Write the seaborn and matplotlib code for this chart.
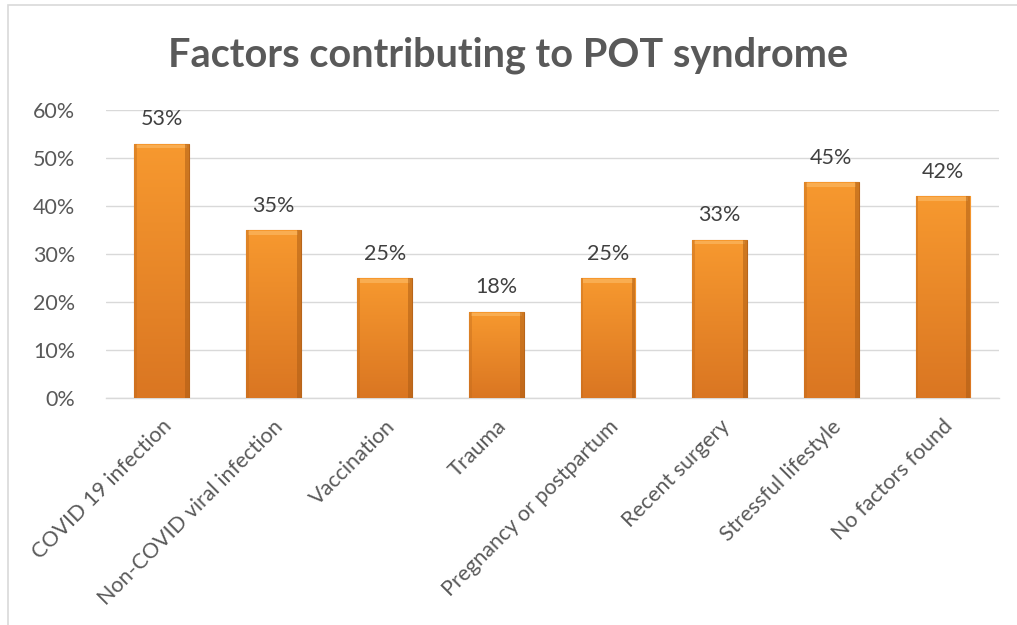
import numpy as np
import pandas as pd
import matplotlib
matplotlib.use("Agg")
import matplotlib.pyplot as plt
import seaborn as sns
from matplotlib.patches import Rectangle
from matplotlib.colors import LinearSegmentedColormap

categories = ["COVID 19 infection", "Non-COVID viral infection", "Vaccination", "Trauma",
              "Pregnancy or postpartum", "Recent surgery", "Stressful lifestyle", "No factors found"]
values = [53, 35, 25, 18, 25, 33, 45, 42]
yticks = [0, 10, 20, 30, 40, 50, 60]
title = "Factors contributing to POT syndrome"

sns.set_theme(style="white")
plt.rcParams['font.family'] = ['Lato', 'DejaVu Sans']

df = pd.DataFrame({"factor": categories, "pct": values})

fig = plt.figure(figsize=(10.17, 6.25), dpi=100)
ax = fig.add_axes([0.104, 0.363, 0.878, 0.461])

sns.barplot(data=df, x="factor", y="pct", color="#F28C28", width=0.49, ax=ax,
            edgecolor="#B8651A", linewidth=0.8, zorder=3)

grad = np.linspace(0, 1, 256).reshape(-1, 1)
cmap = LinearSegmentedColormap.from_list("o", ["#DA7622", "#F7992F"])
for p in ax.patches:
    x0, y0 = p.get_x(), p.get_y()
    w, h = p.get_width(), p.get_height()
    im = ax.imshow(grad, extent=[x0, x0 + w, y0, y0 + h], origin="lower", cmap=cmap,
                   aspect="auto", zorder=3.5)
    im.set_clip_path(p)
    ax.add_patch(Rectangle((x0 + w * 0.04, y0 + h - 1.0), w * 0.92, 0.8,
                           facecolor="#FBB35A", edgecolor="none", zorder=3.6, alpha=0.8))
    ax.add_patch(Rectangle((x0 + w * 0.93, y0), w * 0.07, h,
                           facecolor="#A85A14", edgecolor="none", zorder=3.6, alpha=0.5))
    ax.add_patch(Rectangle((x0, y0), w * 0.05, h,
                           facecolor="#C06A1C", edgecolor="none", zorder=3.6, alpha=0.4))

ax.set_xlim(-0.5, len(categories) - 0.5)
ax.set_ylim(0, 60)
ax.set_yticks(yticks)
ax.set_yticklabels([f"{t}%" for t in yticks], fontsize=15.5, color="#595959")
ax.grid(axis="y", color="#D9D9D9", linewidth=1, zorder=0)
ax.set_axisbelow(True)

for s in ["top", "right", "left"]:
    ax.spines[s].set_visible(False)
ax.spines["bottom"].set_color("#D9D9D9")
ax.spines["bottom"].set_linewidth(1)
ax.tick_params(axis="y", length=0, pad=22)
ax.tick_params(axis="x", length=0, pad=13)

ax.set_xticks(range(len(categories)))
ax.set_xticklabels(categories, rotation=45, ha="right", rotation_mode="anchor",
                   fontsize=15.5, color="#595959")
ax.set_xlabel("")
ax.set_ylabel("")

for i, v in enumerate(values):
    ax.text(i, v + 3.0, f"{v}%", ha="center", va="bottom", fontsize=15.5, color="#404040", zorder=5)

fig.text(0.5, 0.912, title, ha="center", va="center", fontsize=28.5, fontweight="bold",
         color="#595959")

fig.add_artist(Rectangle((8 / 1017, -0.01), 1.1, 1 - 5 / 625 + 0.01, transform=fig.transFigure,
                         fill=False, edgecolor="#D9D9D9", linewidth=1.2))

fig.savefig("out.png", dpi=100, facecolor="white")
